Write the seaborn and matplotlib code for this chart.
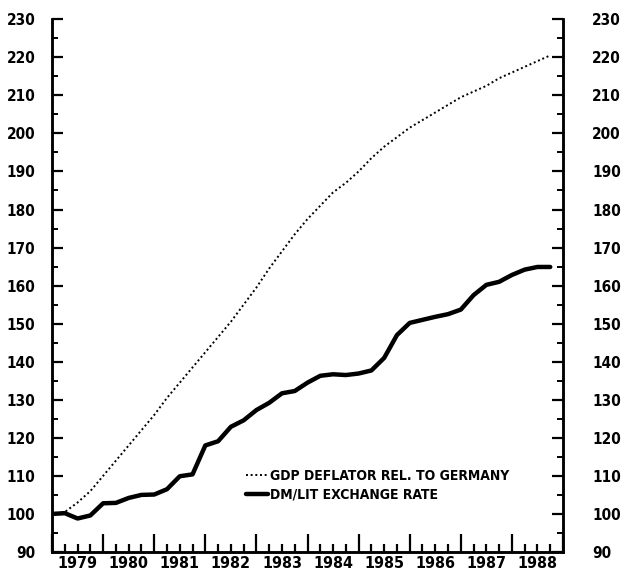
import pandas as pd
import matplotlib.pyplot as plt
import seaborn as sns

# Quarterly index values, 1979Q1 = 100
years = list(range(1979, 1989))
quarter_offsets = [0.0, 0.25, 0.5, 0.75]

gdp_deflator = [100.0, 100.5, 103.0, 106.0,
                110.0, 114.0, 118.0, 122.0,
                126.0, 130.5, 134.5, 138.5,
                142.5, 146.5, 150.5, 155.0,
                159.5, 164.5, 169.0, 173.5,
                177.5, 181.0, 184.5, 187.0,
                190.0, 193.5, 196.5, 199.0,
                201.5, 203.5, 205.5, 207.5,
                209.5, 211.0, 212.5, 214.5,
                216.0, 217.5, 219.0, 220.5]

dm_lit = [100.0, 100.2, 98.8, 99.6,
          102.8, 102.9, 104.2, 105.0,
          105.1, 106.5, 109.9, 110.4,
          118.0, 119.1, 122.9, 124.6,
          127.3, 129.2, 131.7, 132.3,
          134.5, 136.3, 136.7, 136.5,
          136.9, 137.7, 141.0, 147.0,
          150.2, 151.0, 151.8, 152.5,
          153.7, 157.5, 160.2, 161.0,
          162.8, 164.2, 164.9, 164.9]

y_ticks = list(range(90, 240, 10))

time = [y + q for y in years for q in quarter_offsets]
df = pd.DataFrame({"time": time, "gdp": gdp_deflator, "fx": dm_lit})

sns.set_style("ticks", {"axes.edgecolor": "black", "xtick.color": "black",
                        "ytick.color": "black", "text.color": "black"})
plt.rcParams["font.family"] = ["DejaVu Sans"]
plt.rcParams["font.stretch"] = "condensed"
plt.rcParams["font.weight"] = "bold"

fig = plt.figure(figsize=(6.29, 5.83), dpi=100)
ax = fig.add_axes([0.0827, 0.0532, 0.8124, 0.9138])

sns.lineplot(data=df, x="time", y="gdp", ax=ax, color="black", lw=1.4,
             linestyle=(0, (1, 1.4)), label="GDP DEFLATOR REL. TO GERMANY")
sns.lineplot(data=df, x="time", y="fx", ax=ax, color="black", lw=3.2,
             label="DM/LIT EXCHANGE RATE")

ax.set_xlim(1979, 1989)
ax.set_ylim(90, 230)
ax.set_xlabel("")
ax.set_ylabel("")

# x axis: tall ticks at year ends, short quarter ticks, labels mid-year
ax.set_xticks(years + [1989])
ax.set_xticklabels([])
minor_pos = [y + q for y in years for q in (0.25, 0.5, 0.75)]
minor_lab = [str(y) if q == 0.5 else "" for y in years for q in (0.25, 0.5, 0.75)]
ax.set_xticks(minor_pos, minor=True)
ax.set_xticklabels(minor_lab, minor=True, fontsize=11.5, fontweight="bold")
ax.tick_params(axis="x", which="major", direction="in", length=13, width=1.6)
ax.tick_params(axis="x", which="minor", direction="in", length=6, width=1.6, pad=3)

ax.set_yticks(y_ticks)
ax.set_yticklabels([str(v) for v in y_ticks], fontsize=11, fontweight="bold")
ax.set_yticks([v + 5 for v in y_ticks[:-1]], minor=True)
ax.tick_params(axis="y", which="major", direction="in", length=8, width=1.6, pad=12)
ax.tick_params(axis="y", which="minor", direction="in", length=4, width=1.4)

# right-hand scale repeats the left one
ax2 = ax.twinx()
ax2.set_ylim(90, 230)
ax2.set_yticks(y_ticks)
ax2.set_yticklabels([str(v) for v in y_ticks], fontsize=11, fontweight="bold")
ax2.set_yticks([v + 5 for v in y_ticks[:-1]], minor=True)
ax2.tick_params(axis="y", which="major", direction="in", length=8, width=1.6, pad=21)
ax2.tick_params(axis="y", which="minor", direction="in", length=4, width=1.4)

for a in (ax, ax2):
    for s in a.spines.values():
        s.set_linewidth(1.8)
ax.spines["top"].set_visible(False)
ax2.spines["top"].set_visible(False)

ax.legend(loc="center left", bbox_to_anchor=(0.355, 0.125), frameon=False,
          handlelength=1.6, handletextpad=0.1, labelspacing=0.35,
          prop={"size": 10, "weight": "bold", "stretch": "condensed"})

fig.savefig("out.png", dpi=100)
